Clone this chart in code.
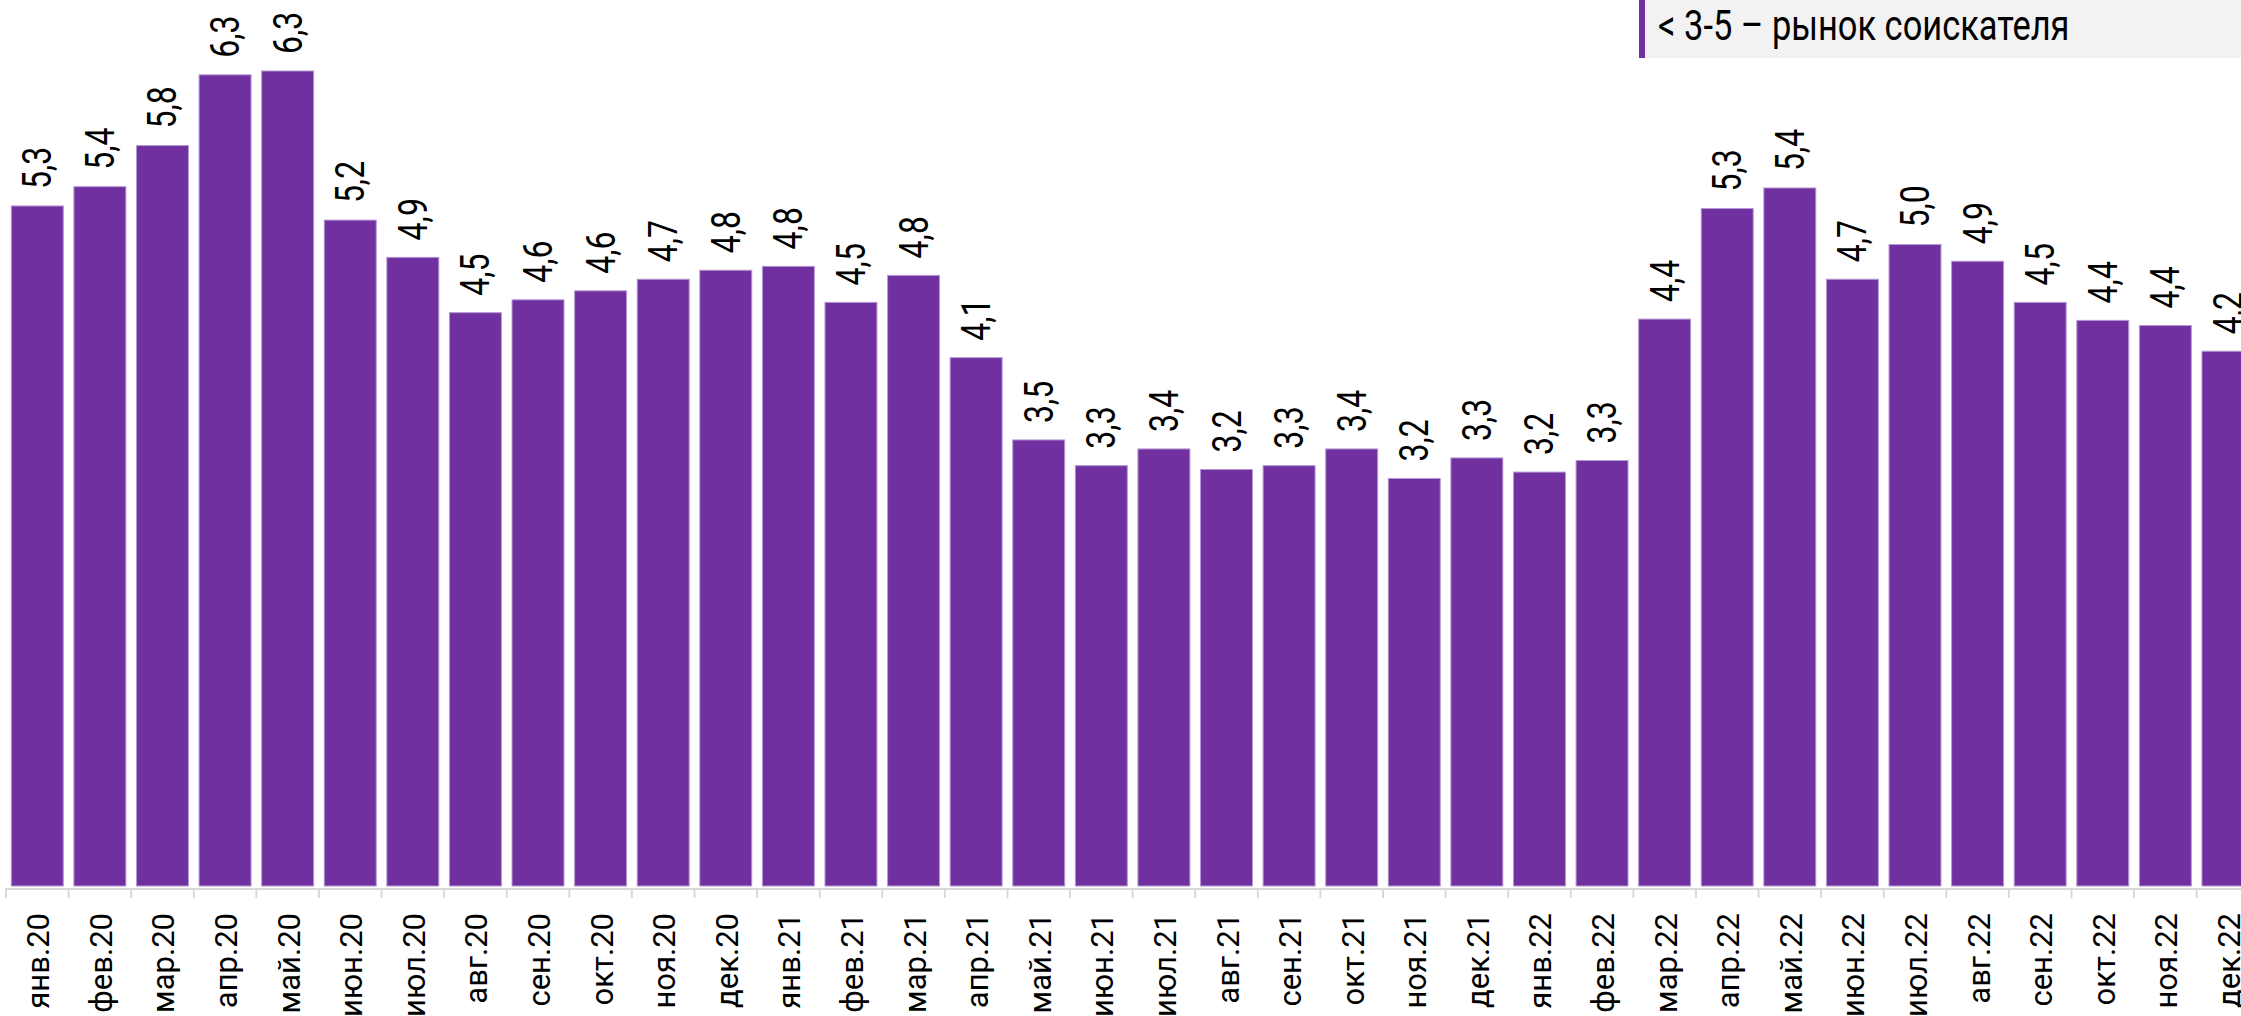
<!DOCTYPE html>
<html>
<head>
<meta charset="utf-8">
<script src="https://cdn.jsdelivr.net/npm/d3@7"></script>
<style>
  html, body { margin: 0; padding: 0; background: #fff; overflow: hidden; }
  svg { display: block; font-family: Roboto, 'Noto Sans', sans-serif; }
</style>
</head>
<body>
<div class="chart"></div>
<script>
const months = [
  'янв.20', 'фев.20', 'мар.20', 'апр.20', 'май.20', 'июн.20', 'июл.20', 'авг.20', 'сен.20', 'окт.20', 'ноя.20', 'дек.20',
  'янв.21', 'фев.21', 'мар.21', 'апр.21', 'май.21', 'июн.21', 'июл.21', 'авг.21', 'сен.21', 'окт.21', 'ноя.21', 'дек.21',
  'янв.22', 'фев.22', 'мар.22', 'апр.22', 'май.22', 'июн.22', 'июл.22', 'авг.22', 'сен.22', 'окт.22', 'ноя.22', 'дек.22',
];
// hh-индекс (резюме на вакансию), оценка по высоте столбцов
const hhIndex = [
  5.29, 5.44, 5.76, 6.31, 6.34, 5.18, 4.89, 4.46, 4.56, 4.63, 4.72, 4.79,
  4.82, 4.54, 4.75, 4.11, 3.47, 3.27, 3.40, 3.24, 3.27, 3.40, 3.17, 3.33,
  3.22, 3.31, 4.41, 5.27, 5.43, 4.72, 4.99, 4.86, 4.54, 4.40, 4.36, 4.16,
];
const legendText = '< 3-5 – рынок соискателя';

const width = 2241;
const height = 1016;
const baseline = 886;
const pxPerUnit = 128.55;
const barColor = '#7030a0';

const svg = d3
  .select('.chart')
  .append('svg')
  .attr('width', width)
  .attr('height', height);

const pad = 0.17;
const xScale = d3
  .scaleBand()
  .domain(months)
  .range([6, 6 + 36 * 62.59])
  .paddingInner(pad)
  .paddingOuter(pad / 2);
const yScale = d3
  .scaleLinear()
  .domain([0, 7])
  .range([baseline, baseline - 7 * pxPerUnit]);

const fmt = v => v.toFixed(1).replace('.', ',');

// bars
svg
  .selectAll('rect.bar')
  .data(months)
  .enter()
  .append('rect')
  .attr('class', 'bar')
  .attr('x', d => xScale(d))
  .attr('y', (d, i) => yScale(hhIndex[i]))
  .attr('width', xScale.bandwidth())
  .attr('height', (d, i) => yScale(0) - yScale(hhIndex[i]))
  .attr('fill', barColor)
  .attr('stroke', '#b597d3')
  .attr('stroke-width', 1);

// value labels, rotated
svg
  .selectAll('text.value')
  .data(months)
  .enter()
  .append('text')
  .attr('class', 'value')
  .attr('transform', (d, i) =>
    `translate(${xScale(d) + xScale.bandwidth() / 2}, ${yScale(hhIndex[i]) - 17}) rotate(-90) scale(0.8,1)`)
  .attr('x', 0)
  .attr('y', 14)
  .attr('text-anchor', 'start')
  .attr('font-size', '40px')
  .attr('fill', '#000')
  .text((d, i) => fmt(hhIndex[i]));

// axis line and ticks between categories
const axisG = svg.append('g').attr('class', 'x-axis');
const boundary = d => xScale(d) - xScale.step() * pad / 2;
axisG
  .append('line')
  .attr('x1', boundary(months[0]))
  .attr('x2', width)
  .attr('y1', 889)
  .attr('y2', 889)
  .attr('stroke', '#d9d9d9')
  .attr('stroke-width', 2);
axisG
  .selectAll('line.tick')
  .data(months)
  .enter()
  .append('line')
  .attr('class', 'tick')
  .attr('x1', d => boundary(d))
  .attr('x2', d => boundary(d))
  .attr('y1', 888)
  .attr('y2', 898)
  .attr('stroke', '#d9d9d9')
  .attr('stroke-width', 2);
axisG
  .selectAll('text')
  .data(months)
  .enter()
  .append('text')
  .attr('transform', d => `translate(${xScale(d) + xScale.bandwidth() / 2}, 913) rotate(-90)`)
  .attr('x', 0)
  .attr('y', 12)
  .attr('text-anchor', 'end')
  .attr('font-size', '31px')
  .attr('fill', '#000')
  .text(d => d);

// legend box (top right)
const legend = svg.append('g').attr('class', 'legend');
legend
  .append('rect')
  .attr('x', 1640)
  .attr('y', 0)
  .attr('width', width - 1640)
  .attr('height', 58)
  .attr('fill', '#f2f2f2');
legend
  .append('rect')
  .attr('x', 1639)
  .attr('y', 0)
  .attr('width', 6)
  .attr('height', 58)
  .attr('fill', barColor);
legend
  .append('text')
  .attr('transform', 'translate(1658, 40) scale(0.82,1)')
  .attr('font-size', '42px')
  .attr('fill', '#000')
  .text(legendText);
</script>
</body>
</html>
